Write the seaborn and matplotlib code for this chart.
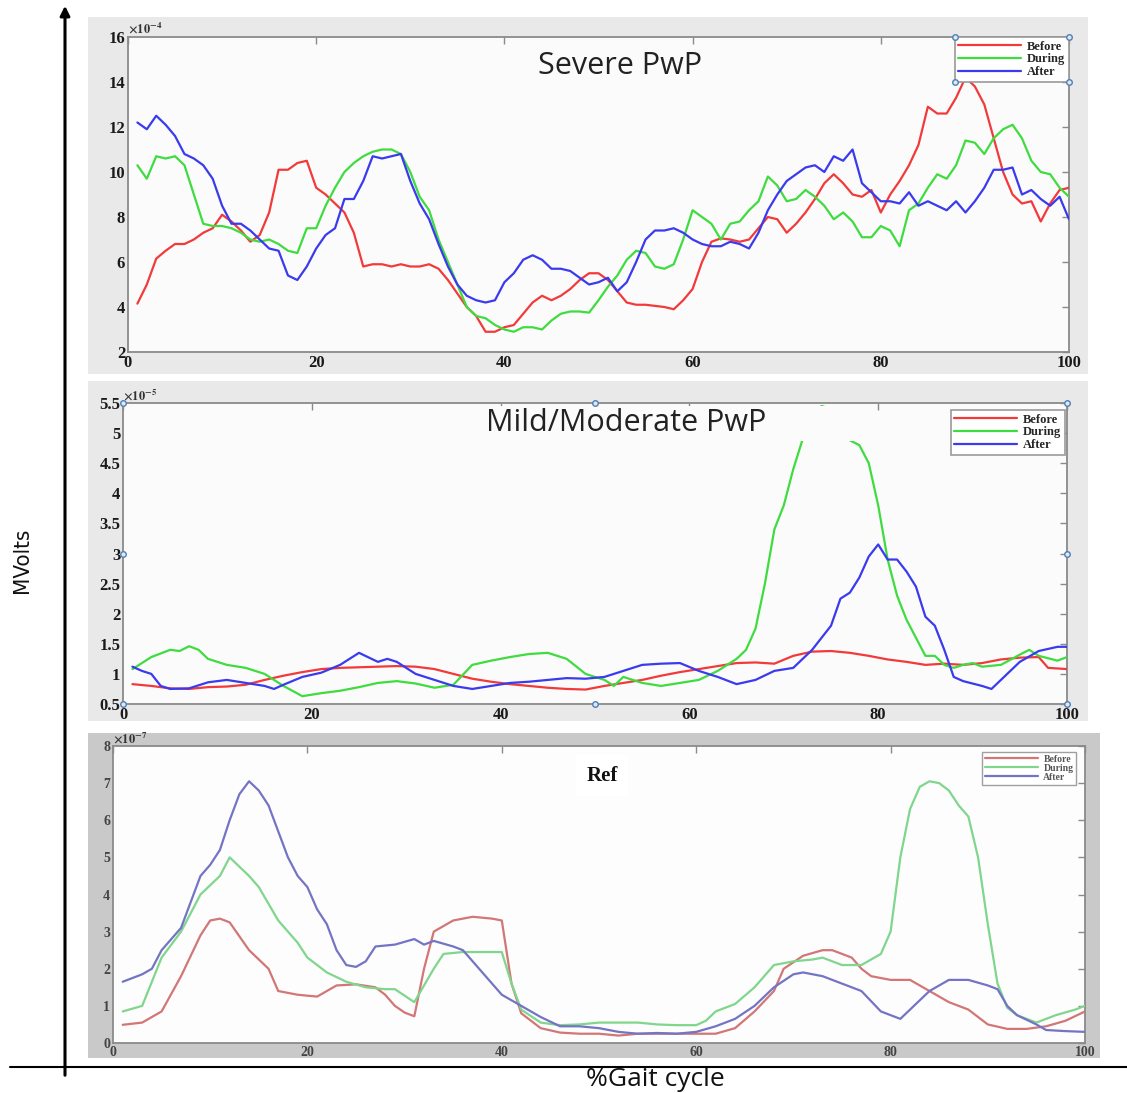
import numpy as np
import matplotlib
matplotlib.use("Agg")
import matplotlib.pyplot as plt
import seaborn as sns
from matplotlib.patches import Rectangle, FancyArrowPatch
from matplotlib.lines import Line2D
from matplotlib.ticker import FuncFormatter, MultipleLocator

sns.set_theme(style="white")
plt.rcParams["font.family"] = ["Liberation Serif", "DejaVu Sans"]
plt.rcParams["font.weight"] = "bold"
plt.rcParams["mathtext.fontset"] = "stix"

# ---------------- data ----------------
series_names = ["Before", "During", "After"]

# Severe PwP (x 1e-4 MVolts), one value per % of gait cycle
gait_pct = list(range(1, 101))
severe_before = [4.15, 5.0, 6.15, 6.5, 6.8, 6.8, 7.0, 7.3, 7.5, 8.1,
                 7.8, 7.4, 6.9, 7.2, 8.2, 10.1, 10.1, 10.4, 10.5, 9.3,
                 9.0, 8.6, 8.2, 7.3, 5.8, 5.9, 5.9, 5.8, 5.9, 5.8,
                 5.8, 5.9, 5.7, 5.2, 4.6, 4.0, 3.6, 2.9, 2.9, 3.1,
                 3.2, 3.7, 4.2, 4.5, 4.3, 4.5, 4.8, 5.2, 5.5, 5.5,
                 5.2, 4.7, 4.2, 4.1, 4.1, 4.05, 4.0, 3.9, 4.3, 4.8,
                 6.0, 6.9, 7.05, 7.0, 6.9, 7.0, 7.5, 8.0, 7.9, 7.3,
                 7.7, 8.2, 8.8, 9.5, 9.9, 9.5, 9.0, 8.9, 9.2, 8.2,
                 9.0, 9.6, 10.3, 11.2, 12.9, 12.6, 12.6, 13.3, 14.2, 13.8,
                 13.0, 11.5, 10.0, 9.0, 8.6, 8.7, 7.8, 8.6, 9.2, 9.3]
severe_during = [10.3, 9.7, 10.7, 10.6, 10.7, 10.3, 9.0, 7.7, 7.6, 7.6,
                 7.5, 7.3, 7.0, 6.9, 7.0, 6.8, 6.5, 6.4, 7.5, 7.5,
                 8.5, 9.3, 10.0, 10.4, 10.7, 10.9, 11.0, 11.0, 10.8, 10.0,
                 8.9, 8.3, 7.0, 6.0, 5.0, 4.0, 3.6, 3.5, 3.2, 3.0,
                 2.9, 3.1, 3.1, 3.0, 3.4, 3.7, 3.8, 3.8, 3.75, 4.3,
                 4.9, 5.4, 6.1, 6.5, 6.4, 5.8, 5.7, 5.9, 7.0, 8.3,
                 8.0, 7.7, 7.0, 7.7, 7.8, 8.3, 8.7, 9.8, 9.4, 8.7,
                 8.8, 9.2, 8.9, 8.5, 7.9, 8.2, 7.8, 7.1, 7.1, 7.6,
                 7.4, 6.7, 8.3, 8.6, 9.3, 9.9, 9.7, 10.3, 11.4, 11.3,
                 10.8, 11.5, 11.9, 12.1, 11.5, 10.5, 10.0, 9.9, 9.3, 8.9]
severe_after = [12.2, 11.9, 12.5, 12.1, 11.6, 10.8, 10.6, 10.3, 9.7, 8.5,
                7.7, 7.7, 7.4, 7.0, 6.6, 6.5, 5.4, 5.2, 5.8, 6.6,
                7.2, 7.5, 8.8, 8.8, 9.6, 10.7, 10.6, 10.7, 10.8, 9.6,
                8.6, 7.9, 6.8, 5.8, 5.0, 4.5, 4.3, 4.2, 4.3, 5.1,
                5.5, 6.1, 6.3, 6.1, 5.7, 5.7, 5.6, 5.3, 5.0, 5.1,
                5.3, 4.7, 5.1, 6.0, 7.0, 7.4, 7.4, 7.5, 7.3, 7.0,
                6.8, 6.7, 6.7, 6.9, 6.8, 6.6, 7.3, 8.3, 9.0, 9.6,
                9.9, 10.2, 10.3, 10.0, 10.7, 10.5, 11.0, 9.5, 9.1, 8.7,
                8.7, 8.6, 9.1, 8.5, 8.7, 8.5, 8.3, 8.7, 8.2, 8.7,
                9.3, 10.1, 10.1, 10.2, 9.0, 9.2, 8.8, 8.5, 8.9, 7.9]

# Mild/Moderate PwP (x 1e-5 MVolts)
mild_before_x = [1, 3, 5, 7, 9, 11, 13, 15, 17, 19, 21, 23, 25, 27, 29, 31, 33, 35, 37, 39,
                 41, 43, 45, 47, 49, 51, 53, 55, 57, 59, 61, 63, 65, 67, 69, 71, 73, 75, 77, 79,
                 81, 83, 85, 87, 89, 91, 93, 95, 97, 98, 100]
mild_before = [0.83, 0.80, 0.76, 0.75, 0.78, 0.79, 0.82, 0.90, 0.97, 1.03,
               1.08, 1.10, 1.11, 1.12, 1.13, 1.12, 1.08, 1.00, 0.92, 0.87,
               0.83, 0.80, 0.77, 0.75, 0.74, 0.80, 0.85, 0.90, 0.97, 1.03,
               1.08, 1.13, 1.18, 1.19, 1.17, 1.30, 1.37, 1.38, 1.35, 1.30,
               1.24, 1.20, 1.15, 1.17, 1.15, 1.18, 1.24, 1.27, 1.28, 1.10, 1.08]
mild_during_x = [1, 3, 5, 6, 7, 8, 9, 11, 13, 15, 17, 19, 21, 23, 25, 27, 29, 31, 33, 35,
                 37, 39, 41, 43, 45, 47, 49, 51, 52, 53, 55, 57, 59, 61, 63, 65, 66, 67, 68, 69,
                 70, 71, 72, 73, 74, 75, 76, 77, 78, 79, 80, 81, 82, 83, 84, 85, 86, 87, 88, 89,
                 90, 91, 93, 95, 96, 97, 99, 100]
mild_during = [1.08, 1.28, 1.40, 1.38, 1.46, 1.40, 1.25, 1.15, 1.10, 1.00,
               0.80, 0.63, 0.68, 0.72, 0.78, 0.85, 0.88, 0.84, 0.77, 0.82,
               1.15, 1.22, 1.28, 1.33, 1.35, 1.25, 1.00, 0.90, 0.80, 0.95,
               0.85, 0.80, 0.85, 0.90, 1.05, 1.25, 1.40, 1.75, 2.5, 3.4,
               3.8, 4.4, 4.9, 5.3, 5.45, 5.4, 5.2, 4.88, 4.8, 4.5,
               3.8, 2.9, 2.3, 1.9, 1.6, 1.3, 1.3, 1.15, 1.10, 1.15,
               1.18, 1.12, 1.15, 1.32, 1.40, 1.30, 1.22, 1.28]
mild_after_x = [1, 2, 3, 4, 5, 7, 9, 11, 13, 15, 16, 17, 19, 21, 23, 25, 27, 28, 29, 31,
                33, 35, 37, 39, 41, 43, 45, 47, 49, 51, 53, 55, 57, 59, 61, 63, 65, 67, 69, 71,
                73, 75, 76, 77, 78, 79, 80, 81, 82, 83, 84, 85, 86, 87, 88, 89, 91, 92, 93, 95,
                97, 99, 100]
mild_after = [1.12, 1.05, 1.00, 0.80, 0.75, 0.76, 0.86, 0.90, 0.85, 0.80,
              0.75, 0.82, 0.95, 1.02, 1.15, 1.35, 1.20, 1.25, 1.20, 1.00,
              0.90, 0.80, 0.75, 0.80, 0.85, 0.87, 0.90, 0.93, 0.92, 0.95,
              1.05, 1.15, 1.17, 1.18, 1.05, 0.95, 0.83, 0.90, 1.05, 1.10,
              1.40, 1.80, 2.25, 2.35, 2.60, 2.95, 3.15, 2.90, 2.90, 2.70,
              2.45, 1.95, 1.80, 1.40, 0.95, 0.88, 0.80, 0.75, 0.90, 1.20,
              1.38, 1.45, 1.45]

# Ref group (x 1e-7 MVolts)
ref_before_x = [1, 3, 5, 7, 9, 10, 11, 12, 14, 16, 17, 19, 21, 23, 25, 27, 28, 29, 30, 31,
                32, 33, 35, 37, 39, 40, 41, 42, 44, 46, 48, 50, 52, 54, 56, 58, 60, 62, 64, 66,
                68, 69, 71, 73, 74, 76, 77, 78, 80, 82, 84, 86, 88, 90, 92, 94, 96, 98, 100]
ref_before = [0.49, 0.55, 0.85, 1.8, 2.9, 3.3, 3.35, 3.25, 2.5, 2.0,
              1.4, 1.3, 1.25, 1.55, 1.58, 1.5, 1.3, 1.0, 0.82, 0.72,
              2.0, 3.0, 3.3, 3.4, 3.35, 3.3, 1.6, 0.8, 0.4, 0.28,
              0.25, 0.25, 0.2, 0.25, 0.25, 0.25, 0.25, 0.25, 0.4, 0.85,
              1.4, 2.0, 2.35, 2.5, 2.5, 2.3, 2.0, 1.8, 1.7, 1.7,
              1.4, 1.1, 0.9, 0.5, 0.38, 0.38, 0.45, 0.6, 0.85]
ref_during_x = [1, 3, 5, 7, 9, 11, 12, 14, 15, 17, 19, 20, 22, 24, 26, 28, 29, 31, 33, 34,
                36, 38, 40, 41, 42, 44, 46, 48, 50, 52, 54, 56, 58, 60, 61, 62, 64, 66, 68, 70,
                72, 73, 75, 77, 79, 80, 81, 82, 83, 84, 85, 86, 87, 88, 89, 90, 91, 92, 93, 95,
                97, 99, 100]
ref_during = [0.85, 1.0, 2.3, 3.0, 4.0, 4.5, 5.0, 4.5, 4.2, 3.3,
              2.7, 2.3, 1.9, 1.65, 1.5, 1.45, 1.45, 1.1, 2.0, 2.4,
              2.45, 2.45, 2.45, 1.6, 0.9, 0.55, 0.48, 0.5, 0.55, 0.55,
              0.55, 0.5, 0.48, 0.48, 0.6, 0.85, 1.05, 1.5, 2.1, 2.2,
              2.25, 2.3, 2.1, 2.1, 2.4, 3.0, 5.0, 6.3, 6.9, 7.05,
              7.0, 6.8, 6.4, 6.1, 5.0, 3.2, 1.6, 0.95, 0.75, 0.55,
              0.75, 0.9, 1.0]
ref_after_x = [1, 3, 4, 5, 7, 9, 10, 11, 12, 13, 14, 15, 16, 18, 19, 20, 21, 22, 23, 24,
               25, 26, 27, 29, 31, 32, 33, 35, 36, 38, 40, 42, 44, 46, 48, 50, 52, 54, 56, 58,
               60, 62, 64, 66, 68, 70, 71, 73, 75, 77, 79, 81, 82, 84, 86, 88, 90, 91, 92, 93,
               95, 96, 98, 100]
ref_after = [1.65, 1.85, 2.0, 2.5, 3.1, 4.5, 4.8, 5.2, 6.0, 6.7,
             7.05, 6.8, 6.4, 5.0, 4.5, 4.2, 3.6, 3.2, 2.5, 2.1,
             2.05, 2.2, 2.6, 2.65, 2.8, 2.65, 2.75, 2.6, 2.5, 1.9,
             1.3, 1.0, 0.7, 0.45, 0.45, 0.4, 0.3, 0.25, 0.27, 0.25,
             0.3, 0.45, 0.65, 1.0, 1.5, 1.85, 1.9, 1.8, 1.6, 1.4,
             0.85, 0.65, 0.9, 1.4, 1.7, 1.7, 1.55, 1.45, 1.0, 0.75,
             0.5, 0.35, 0.32, 0.3]

bright_colors = ["#f23a3a", "#3fdc3f", "#3a3aee"]
muted_colors = ["#d27676", "#7fd68c", "#7474c4"]

# ---------------- figure layout (pixel helpers) ----------------
W, H = 1127, 1093
fig = plt.figure(figsize=(W / 100, H / 100), dpi=100, facecolor="white")


def fx(px):
    return px / W


def fy(py):
    return 1 - py / H


def panel_box(x0, y0, x1, y1, color):
    fig.add_artist(Rectangle((fx(x0), fy(y1)), fx(x1) - fx(x0), fy(y0) - fy(y1),
                             transform=fig.transFigure, facecolor=color,
                             edgecolor="none", zorder=-5))


def make_axes(x0, y0, x1, y1):
    ax = fig.add_axes([fx(x0), fy(y1), fx(x1) - fx(x0), fy(y0) - fy(y1)])
    ax.set_facecolor("#fbfbfb")
    return ax


def style_axes(ax, lo, hi, step, scale, exp, labelsize=12, labelcolor="#1a1a1a"):
    ax.set_xlim(0, 100)
    ax.set_ylim(lo * scale, hi * scale)
    ax.xaxis.set_major_locator(MultipleLocator(20))
    ax.yaxis.set_major_locator(MultipleLocator(step * scale))
    ax.yaxis.set_major_formatter(FuncFormatter(lambda v, p: f"{round(v / scale, 6):g}"))
    ax.tick_params(direction="in", top=True, right=True, length=5, width=1,
                   color="#8a8a8a", labelsize=labelsize, labelcolor=labelcolor, pad=2)
    ax.grid(False)
    for s in ax.spines.values():
        s.set_color("#8a8a8a")
        s.set_linewidth(1.3)
    ax.set_xlabel("")
    ax.set_ylabel("")
    ax.text(0.0, 1.003, rf"$\times10^{{{exp}}}$", transform=ax.transAxes,
            ha="left", va="bottom", fontsize=9, color="#333333")


def draw_group(ax, xs, ys, scale, colors, lw):
    for x, y, c, name in zip(xs, ys, colors, series_names):
        sns.lineplot(x=np.asarray(x), y=np.asarray(y) * scale, ax=ax,
                     color=c, lw=lw, label=name, zorder=3)


def handles(ax, pts):
    ax.plot([p[0] for p in pts], [p[1] for p in pts], ls="none", marker="o", ms=4,
            mfc="#dfe8f2", mec="#4f7fb5", mew=1, transform=ax.transAxes,
            clip_on=False, zorder=10)


# panel backgrounds
panel_box(88, 17, 1088, 374, "#e9e9e9")
panel_box(88, 381, 1088, 721, "#e9e9e9")
panel_box(88, 733, 1100, 1058, "#c9c9c9")

# ---- Severe PwP ----
ax1 = make_axes(128, 37, 1069, 352)
draw_group(ax1, [gait_pct] * 3, [severe_before, severe_during, severe_after],
           1e-4, bright_colors, 1.6)
style_axes(ax1, 2, 16, 2, 1e-4, -4)
ax1.text(0.523, 0.908, "Severe PwP", transform=ax1.transAxes, ha="center", va="center",
         fontsize=22, family="Open Sans", weight="normal", color="#222222", zorder=6)
leg1 = ax1.legend(loc="upper right", borderaxespad=0, frameon=True, fancybox=False,
                  edgecolor="#9a9a9a", framealpha=1, fontsize=9, handlelength=5.0,
                  labelspacing=0.05, borderpad=0.3, handletextpad=0.5)
leg1.get_frame().set_linewidth(1.2)
leg1.set_zorder(8)

# ---- Mild/Moderate PwP ----
ax2 = make_axes(123, 403, 1067, 704)
draw_group(ax2, [mild_before_x, mild_during_x, mild_after_x],
           [mild_before, mild_during, mild_after], 1e-5, bright_colors, 1.6)
style_axes(ax2, 0.5, 5.5, 0.5, 1e-5, -5)
ax2.add_patch(Rectangle((0.32, 0.874), 0.461, 0.116, transform=ax2.transAxes,
                        facecolor="#fbfbfb", edgecolor="none", zorder=5))
ax2.text(0.533, 0.933, "Mild/Moderate PwP", transform=ax2.transAxes, ha="center",
         va="center", fontsize=22, family="Open Sans", weight="normal",
         color="#222222", zorder=6)
leg2 = ax2.legend(loc="upper right", bbox_to_anchor=(0.998, 0.977), borderaxespad=0,
                  frameon=True, fancybox=False, edgecolor="#9a9a9a", framealpha=1,
                  fontsize=9, handlelength=5.0, labelspacing=0.05, borderpad=0.3,
                  handletextpad=0.5)
leg2.get_frame().set_linewidth(1.2)
leg2.set_zorder(8)
handles(ax2, [(0, 0), (0.5, 0), (1, 0), (0, 0.5), (1, 0.5), (0, 1), (0.5, 1), (1, 1)])

# ---- Ref ----
ax3 = make_axes(113, 746, 1085, 1043)
ax3.set_facecolor("#fdfdfd")
draw_group(ax3, [ref_before_x, ref_during_x, ref_after_x],
           [ref_before, ref_during, ref_after], 1e-7, muted_colors, 1.6)
style_axes(ax3, 0, 8, 1, 1e-7, -7, labelsize=10, labelcolor="#444444")
ax3.text(0.503, 0.90, "Ref", transform=ax3.transAxes, ha="center", va="center",
         fontsize=15, color="#111111", zorder=6,
         bbox=dict(boxstyle="square,pad=0.5", facecolor="white", edgecolor="none"))
leg3 = ax3.legend(loc="upper right", bbox_to_anchor=(0.991, 0.98), borderaxespad=0,
                  frameon=True, fancybox=False, edgecolor="#a0a0a0", framealpha=1,
                  fontsize=7, handlelength=5.5, labelspacing=0.0, borderpad=0.3,
                  handletextpad=0.5)
leg3.get_frame().set_linewidth(1.0)
for t in leg3.get_texts():
    t.set_color("#555555")

# selection handles on the top legend corners
fig.canvas.draw()
bb = leg1.get_window_extent().transformed(ax1.transAxes.inverted())
handles(ax1, [(bb.x0, bb.y0), (bb.x1, bb.y0), (bb.x0, bb.y1), (bb.x1, bb.y1)])

# ---- outer axis arrows and labels ----
fig.add_artist(FancyArrowPatch((fx(65), fy(1078)), (fx(65), fy(3)), transform=fig.transFigure,
                               arrowstyle="-|>", mutation_scale=14, lw=2.2, color="black",
                               zorder=4))
fig.add_artist(Line2D([fx(10), fx(1127)], [fy(1067), fy(1067)], transform=fig.transFigure,
                      color="black", lw=1.5, zorder=4))
fig.text(fx(22), fy(560), "MVolts", rotation=90, ha="center", va="center", fontsize=16,
         family="DejaVu Sans", fontstretch="condensed", weight="normal", color="#111111")
fig.text(fx(655), fy(1080), "%Gait cycle", ha="center", va="center", fontsize=19,
         family="Open Sans", weight="normal", color="#111111")

fig.savefig("out.png", dpi=100, facecolor="white")
